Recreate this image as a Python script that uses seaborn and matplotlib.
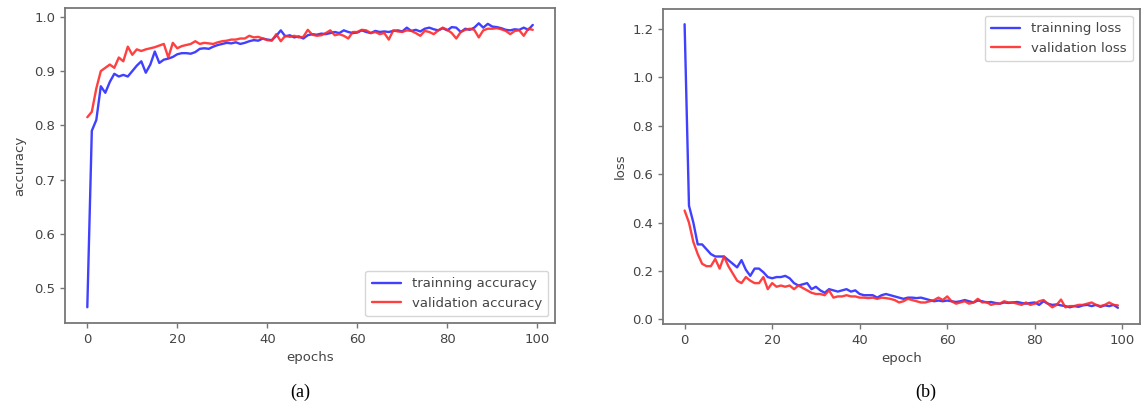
import matplotlib
matplotlib.use("Agg")
import matplotlib.pyplot as plt
import numpy as np
import pandas as pd
import seaborn as sns

# values, one per epoch (0..99)
train_acc = [
    0.465, 0.790, 0.810, 0.872, 0.860, 0.880, 0.895, 0.890, 0.893, 0.890,
    0.900, 0.910, 0.918, 0.897, 0.912, 0.936, 0.915, 0.921, 0.923, 0.926,
    0.931, 0.933, 0.933, 0.932, 0.935, 0.941, 0.942, 0.941, 0.945, 0.948,
    0.950, 0.952, 0.951, 0.953, 0.950, 0.952, 0.955, 0.957, 0.956, 0.960,
    0.958, 0.957, 0.965, 0.975, 0.964, 0.966, 0.962, 0.964, 0.960, 0.966,
    0.968, 0.967, 0.969, 0.968, 0.970, 0.972, 0.970, 0.975, 0.972, 0.970,
    0.971, 0.975, 0.972, 0.970, 0.974, 0.972, 0.973, 0.972, 0.974, 0.975,
    0.973, 0.980, 0.974, 0.976, 0.973, 0.978, 0.980, 0.977, 0.975, 0.979,
    0.975, 0.981, 0.980, 0.972, 0.978, 0.976, 0.980, 0.988, 0.980, 0.987,
    0.982, 0.981, 0.979, 0.976, 0.975, 0.977, 0.976, 0.980, 0.976, 0.985,
]
val_acc = [
    0.815, 0.825, 0.868, 0.900, 0.906, 0.912, 0.906, 0.925, 0.918, 0.945,
    0.930, 0.940, 0.937, 0.940, 0.942, 0.944, 0.947, 0.950, 0.925, 0.952,
    0.942, 0.946, 0.948, 0.950, 0.955, 0.950, 0.952, 0.951, 0.950, 0.953,
    0.955, 0.956, 0.958, 0.958, 0.960, 0.960, 0.965, 0.962, 0.963, 0.960,
    0.957, 0.956, 0.968, 0.955, 0.965, 0.963, 0.965, 0.962, 0.963, 0.976,
    0.967, 0.965, 0.966, 0.970, 0.975, 0.966, 0.968, 0.965, 0.960, 0.972,
    0.972, 0.976, 0.975, 0.970, 0.972, 0.968, 0.970, 0.958, 0.975, 0.973,
    0.972, 0.975, 0.974, 0.970, 0.965, 0.974, 0.972, 0.968, 0.975, 0.980,
    0.976, 0.970, 0.960, 0.972, 0.976, 0.978, 0.976, 0.962, 0.975, 0.978,
    0.978, 0.979, 0.977, 0.974, 0.968, 0.974, 0.975, 0.965, 0.978, 0.976,
]
train_loss = [
    1.22, 0.47, 0.40, 0.31, 0.31, 0.29, 0.27, 0.26, 0.26, 0.26,
    0.245, 0.23, 0.215, 0.245, 0.205, 0.18, 0.21, 0.21, 0.195, 0.175,
    0.17, 0.175, 0.175, 0.18, 0.17, 0.15, 0.14, 0.145, 0.15, 0.125,
    0.135, 0.12, 0.11, 0.125, 0.12, 0.115, 0.12, 0.125, 0.115, 0.12,
    0.105, 0.10, 0.10, 0.10, 0.09, 0.10, 0.105, 0.10, 0.095, 0.09,
    0.085, 0.09, 0.09, 0.088, 0.09, 0.085, 0.08, 0.075, 0.078, 0.075,
    0.078, 0.075, 0.072, 0.075, 0.08, 0.075, 0.07, 0.078, 0.075, 0.07,
    0.072, 0.068, 0.065, 0.07, 0.068, 0.07, 0.072, 0.068, 0.065, 0.068,
    0.07, 0.06, 0.075, 0.065, 0.06, 0.062, 0.058, 0.055, 0.05, 0.055,
    0.052, 0.058, 0.06, 0.055, 0.06, 0.052, 0.058, 0.055, 0.06, 0.048,
]
val_loss = [
    0.45, 0.40, 0.32, 0.27, 0.23, 0.22, 0.22, 0.25, 0.21, 0.26,
    0.22, 0.19, 0.16, 0.15, 0.175, 0.16, 0.15, 0.15, 0.175, 0.125,
    0.15, 0.135, 0.14, 0.135, 0.14, 0.125, 0.14, 0.13, 0.12, 0.11,
    0.105, 0.105, 0.10, 0.12, 0.09, 0.095, 0.095, 0.10, 0.095, 0.095,
    0.09, 0.09, 0.088, 0.09, 0.085, 0.09, 0.088, 0.085, 0.08, 0.07,
    0.075, 0.085, 0.08, 0.075, 0.07, 0.07, 0.075, 0.08, 0.09, 0.08,
    0.095, 0.075, 0.065, 0.07, 0.075, 0.065, 0.07, 0.085, 0.07, 0.072,
    0.06, 0.065, 0.065, 0.075, 0.07, 0.07, 0.065, 0.06, 0.07, 0.06,
    0.065, 0.075, 0.08, 0.065, 0.05, 0.06, 0.082, 0.05, 0.055, 0.055,
    0.06, 0.06, 0.065, 0.07, 0.06, 0.055, 0.06, 0.07, 0.06, 0.058,
]
epochs = np.arange(len(train_acc))

BLUE = "#2b2bff"
RED = "#ff2b2b"
SPINE = "#777777"
TEXT = "#444444"

sns.set_style("white")
plt.rcParams["font.family"] = ["DejaVu Sans"]

acc_df = pd.DataFrame({
    "epoch": np.concatenate([epochs, epochs]),
    "value": train_acc + val_acc,
    "series": ["trainning accuracy"] * len(epochs) + ["validation accuracy"] * len(epochs),
})
loss_df = pd.DataFrame({
    "epoch": np.concatenate([epochs, epochs]),
    "value": train_loss + val_loss,
    "series": ["trainning loss"] * len(epochs) + ["validation loss"] * len(epochs),
})

fig = plt.figure(figsize=(11.43, 4.05), dpi=100)
ax1 = fig.add_axes([0.0569, 0.2025, 0.4287, 0.7775])
ax2 = fig.add_axes([0.580, 0.2000, 0.417, 0.7778])


def style_axes(ax):
    for s in ax.spines.values():
        s.set_color(SPINE)
        s.set_linewidth(1.3)
    ax.tick_params(axis="both", which="both", direction="out", length=3.5,
                   width=1.0, color=SPINE, labelcolor=TEXT, labelsize=9.5,
                   left=True, bottom=True)
    ax.set_xticks([0, 20, 40, 60, 80, 100])


sns.lineplot(data=acc_df, x="epoch", y="value", hue="series",
             palette=[BLUE, RED], linewidth=1.7, alpha=0.9, ax=ax1)
ax1.set_xlim(-4.95, 103.95)
ax1.set_ylim(0.436, 1.016)
ax1.set_yticks([0.5, 0.6, 0.7, 0.8, 0.9, 1.0])
ax1.set_xlabel("epochs", color=TEXT, fontsize=9.5)
ax1.set_ylabel("accuracy", color=TEXT, fontsize=9.5, labelpad=6)
style_axes(ax1)
ax1.legend(loc="lower right", fontsize=9.5, frameon=True, edgecolor="#cccccc",
           labelcolor=TEXT, handlelength=2.2, borderpad=0.5)

sns.lineplot(data=loss_df, x="epoch", y="value", hue="series",
             palette=[BLUE, RED], linewidth=1.7, alpha=0.9, ax=ax2)
ax2.set_xlim(-4.95, 103.95)
ax2.set_ylim(-0.019, 1.283)
ax2.set_yticks([0.0, 0.2, 0.4, 0.6, 0.8, 1.0, 1.2])
ax2.set_xlabel("epoch", color=TEXT, fontsize=9.5)
ax2.set_ylabel("loss", color=TEXT, fontsize=9.5)
style_axes(ax2)
ax2.legend(loc="upper right", fontsize=9.5, frameon=True, edgecolor="#cccccc",
           labelcolor=TEXT, handlelength=2.2, borderpad=0.5)

fig.text(0.263, 0.032, "(a)", ha="center", va="center", fontsize=13,
         family="Liberation Serif", color="black")
fig.text(0.810, 0.032, "(b)", ha="center", va="center", fontsize=13,
         family="Liberation Serif", color="black")

fig.savefig("out.png", dpi=100)
